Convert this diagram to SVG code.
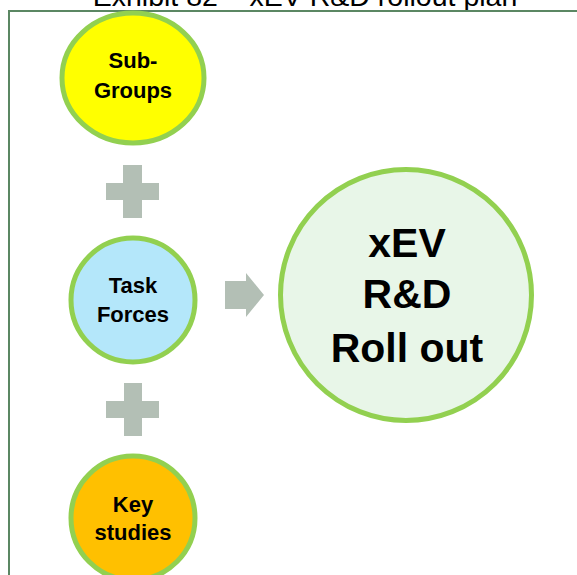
<svg xmlns="http://www.w3.org/2000/svg" width="577" height="575" viewBox="0 0 577 575">
<style>
.node{stroke:#92d050;stroke-width:5}
.lbl{font-family:"Liberation Sans",Arial,sans-serif;font-weight:bold;font-size:22px;fill:#000;text-anchor:middle}
.big{font-size:41px}
.sym{fill:#b3bfb5}
</style>
<rect width="577" height="575" fill="#fff"/>
<text x="305" y="6" font-family="Liberation Sans, Arial, sans-serif" font-size="28.5" text-anchor="middle" fill="#000">Exhibit 82 – xEV R&amp;D rollout plan</text>
<path d="M9 575 V11 H577" fill="none" stroke="#5b8763" stroke-width="2"/>
<g id="connectors">
<path class="sym" d="M123 165 H142 V183 H159 V200 H142 V218 H123 V200 H106 V183 H123 Z"/>
<path class="sym" d="M124 383 H142 V401 H159 V418 H142 V436 H124 V418 H106 V401 H124 Z"/>
<path class="sym" d="M225 281 H246 V273 L264 295 L246 317 V309 H225 Z"/>
</g>
<g id="subgroups">
<ellipse class="node" cx="133" cy="78" rx="71" ry="65" fill="#ffff00"/>
<text class="lbl" x="133" y="68">Sub-</text>
<text class="lbl" x="133" y="98">Groups</text>
</g>
<g id="taskforces">
<circle class="node" cx="133" cy="300" r="62" fill="#b4e7fa"/>
<text class="lbl" x="133" y="293">Task</text>
<text class="lbl" x="133" y="322">Forces</text>
</g>
<g id="keystudies">
<circle class="node" cx="133" cy="518" r="62" fill="#ffc000"/>
<text class="lbl" x="133" y="512">Key</text>
<text class="lbl" x="133" y="540">studies</text>
</g>
<g id="rollout">
<circle class="node" cx="406" cy="295" r="125.5" fill="#e8f6e8"/>
<text class="lbl big" x="407" y="257">xEV</text>
<text class="lbl big" x="407" y="308">R&amp;D</text>
<text class="lbl big" x="407" y="362">Roll out</text>
</g>
</svg>
